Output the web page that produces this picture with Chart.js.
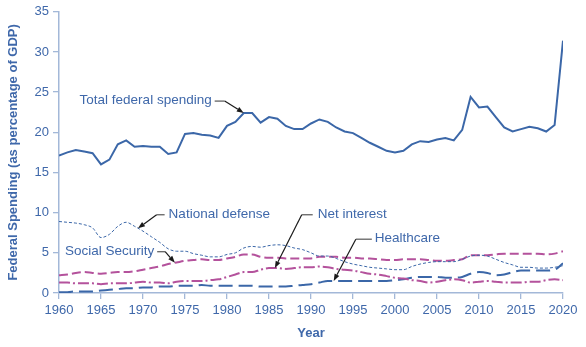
<!DOCTYPE html>
<html>
<head>
<meta charset="utf-8">
<script src="https://cdn.jsdelivr.net/npm/chart.js@4.4.1/dist/chart.umd.min.js"></script>
<style>
  html, body { margin: 0; padding: 0; background: #ffffff; }
  #wrap { width: 586px; height: 347px; }
</style>
</head>
<body>
<div id="wrap"><canvas id="chart" width="586" height="347"></canvas></div>
<script>
// Federal spending by category, percent of GDP, fiscal years 1960-2020
const years = [1960,1961,1962,1963,1964,1965,1966,1967,1968,1969,
               1970,1971,1972,1973,1974,1975,1976,1977,1978,1979,
               1980,1981,1982,1983,1984,1985,1986,1987,1988,1989,
               1990,1991,1992,1993,1994,1995,1996,1997,1998,1999,
               2000,2001,2002,2003,2004,2005,2006,2007,2008,2009,
               2010,2011,2012,2013,2014,2015,2016,2017,2018,2019,2020];

const totalSpending = [17.1,17.5,17.8,17.6,17.4,16.0,16.6,18.5,19.0,18.2,
                       18.3,18.2,18.2,17.3,17.5,19.8,19.9,19.7,19.6,19.3,
                       20.8,21.3,22.4,22.4,21.2,21.9,21.7,20.8,20.4,20.4,
                       21.1,21.6,21.3,20.6,20.1,19.9,19.3,18.7,18.2,17.7,
                       17.5,17.7,18.5,18.9,18.8,19.1,19.3,19.0,20.3,24.4,
                       23.1,23.2,21.9,20.6,20.1,20.4,20.7,20.5,20.1,20.9,31.4];

const nationalDefense = [8.9,8.8,8.7,8.5,8.1,6.9,7.3,8.3,8.8,8.3,
                         7.7,7.0,6.3,5.5,5.2,5.2,4.9,4.7,4.5,4.5,
                         4.8,5.0,5.6,5.8,5.7,5.9,6.0,5.9,5.6,5.4,
                         5.0,4.6,4.6,4.3,3.9,3.6,3.4,3.2,3.1,3.0,
                         2.9,2.9,3.3,3.6,3.8,3.9,3.9,3.9,4.2,4.6,
                         4.7,4.6,4.2,3.8,3.5,3.2,3.2,3.1,3.1,3.2,3.4];

const socialSecurity = [2.2,2.3,2.5,2.6,2.5,2.4,2.5,2.6,2.6,2.7,
                        2.9,3.1,3.3,3.6,3.8,4.0,4.1,4.2,4.1,4.1,
                        4.3,4.5,4.8,4.8,4.5,4.4,4.4,4.3,4.3,4.3,
                        4.3,4.5,4.5,4.5,4.4,4.4,4.3,4.3,4.2,4.1,
                        4.1,4.2,4.2,4.2,4.1,4.0,4.0,4.1,4.2,4.7,
                        4.7,4.7,4.8,4.9,4.9,4.9,4.9,4.9,4.8,4.9,5.2];

const netInterest = [1.3,1.3,1.2,1.2,1.2,1.1,1.2,1.2,1.2,1.3,
                     1.4,1.3,1.3,1.2,1.4,1.5,1.5,1.5,1.6,1.7,
                     2.0,2.3,2.6,2.6,2.9,3.1,3.1,3.0,3.1,3.2,
                     3.2,3.3,3.2,3.0,2.9,2.8,2.6,2.4,2.3,2.1,
                     1.9,1.8,1.6,1.5,1.3,1.4,1.6,1.7,1.6,1.3,
                     1.4,1.5,1.4,1.3,1.3,1.3,1.4,1.4,1.6,1.7,1.6];

const healthcare = [0.1,0.1,0.2,0.2,0.2,0.3,0.4,0.5,0.6,0.6,
                    0.7,0.7,0.8,0.8,0.9,0.9,0.9,1.0,0.9,0.9,
                    0.9,0.9,0.9,0.9,0.8,0.8,0.8,0.8,0.9,1.0,
                    1.1,1.3,1.5,1.5,1.5,1.5,1.5,1.5,1.5,1.5,
                    1.6,1.7,1.9,2.0,2.0,2.0,1.9,1.9,2.0,2.4,
                    2.6,2.5,2.2,2.3,2.6,2.8,2.8,2.8,2.8,2.9,3.7];

const yTicks = [0, 5, 10, 15, 20, 25, 30, 35];
const xTickStep = 5;

// Colours and styling
const BLUE = '#3b67a8';
const MAGENTA = '#b4529c';
const TEXT = '#3f68aa';
const AXIS = '#a3b8d8';
const FONT = '"Liberation Sans", Arial, sans-serif';

const points = (vals) => vals.map((v, i) => ({ x: years[i], y: v }));

// Callout labels: text anchored at (labelYear, labelValue), arrow pointing at a series
const callouts = [
  { text: 'Total federal spending', labelYear: 1962.45, labelValue: 23.95, series: totalSpending, tipYear: 1982,   side: 'right', gap: 3, stub: 10 },
  { text: 'National defense',       labelYear: 1973.05, labelValue: 9.8,   series: nationalDefense, tipYear: 1969.4, side: 'left', gap: 4, stub: 8 },
  { text: 'Social Security',        labelYear: 1960.7,  labelValue: 5.2,   series: socialSecurity, tipYear: 1973.8, side: 'right', gap: 3, stub: 8 },
  { text: 'Net interest',           labelYear: 1990.8,  labelValue: 9.8,   series: netInterest,    tipYear: 1985.7, side: 'left', gap: 5, stub: 11 },
  { text: 'Healthcare',             labelYear: 1997.6,  labelValue: 6.76,  series: healthcare,     tipYear: 1992.7, side: 'left', gap: 3, stub: 16 }
];

function seriesAt(series, year) {
  const i = Math.floor(year - years[0]);
  const f = year - years[0] - i;
  if (i >= series.length - 1) return series[series.length - 1];
  return series[i] + (series[i + 1] - series[i]) * f;
}

const calloutPlugin = {
  id: 'callouts',
  afterDatasetsDraw(chart) {
    const { ctx, scales: { x, y } } = chart;
    ctx.save();
    ctx.font = '13.5px ' + FONT;
    ctx.textBaseline = 'middle';
    ctx.textAlign = 'left';
    callouts.forEach(c => {
      const tx = x.getPixelForValue(c.labelYear);
      const ty = y.getPixelForValue(c.labelValue);
      ctx.fillStyle = TEXT;
      ctx.fillText(c.text, tx, ty);
      const w = ctx.measureText(c.text).width;
      let s0, s1;
      if (c.side === 'right') { s0 = tx + w + c.gap; s1 = s0 + c.stub; }
      else { s0 = tx - c.gap; s1 = s0 - c.stub; }
      const ly = ty + 0.5;
      // horizontal leader
      ctx.strokeStyle = '#555';
      ctx.lineWidth = 1.2;
      ctx.beginPath();
      ctx.moveTo(s0, ly);
      ctx.lineTo(s1, ly);
      ctx.stroke();
      // diagonal to the series
      const px = x.getPixelForValue(c.tipYear);
      const py = y.getPixelForValue(seriesAt(c.series, c.tipYear));
      const ang = Math.atan2(py - ly, px - s1);
      const hl = 7, hw = 2.6;
      const bx = px - hl * Math.cos(ang), by = py - hl * Math.sin(ang);
      ctx.strokeStyle = '#1a1a1a';
      ctx.beginPath();
      ctx.moveTo(s1, ly);
      ctx.lineTo(bx, by);
      ctx.stroke();
      ctx.fillStyle = '#1a1a1a';
      ctx.beginPath();
      ctx.moveTo(px, py);
      ctx.lineTo(bx + hw * Math.sin(ang), by - hw * Math.cos(ang));
      ctx.lineTo(bx - hw * Math.sin(ang), by + hw * Math.cos(ang));
      ctx.closePath();
      ctx.fill();
    });
    ctx.restore();
  }
};

new Chart(document.getElementById('chart'), {
  type: 'line',
  data: {
    datasets: [
      { label: 'Total federal spending', data: points(totalSpending), borderColor: BLUE, borderWidth: 2, tension: 0 },
      { label: 'National defense', data: points(nationalDefense), borderColor: BLUE, borderWidth: 1, borderDash: [3, 2], cubicInterpolationMode: 'monotone' },
      { label: 'Social Security', data: points(socialSecurity), borderColor: MAGENTA, borderWidth: 2, borderDash: [9, 4], cubicInterpolationMode: 'monotone' },
      { label: 'Net interest', data: points(netInterest), borderColor: MAGENTA, borderWidth: 2, borderDash: [11, 3, 2, 3], cubicInterpolationMode: 'monotone' },
      { label: 'Healthcare', data: points(healthcare), borderColor: BLUE, borderWidth: 2, borderDash: [14, 6], cubicInterpolationMode: 'monotone' }
    ]
  },
  options: {
    responsive: false,
    animation: false,
    events: [],
    elements: { point: { radius: 0 } },
    layout: { padding: { left: 0, right: 23, top: 11, bottom: 0 } },
    plugins: { legend: { display: false }, tooltip: { enabled: false } },
    scales: {
      x: {
        type: 'linear',
        min: years[0],
        max: years[years.length - 1],
        afterFit(scale) { scale.height = 54; },
        afterBuildTicks(scale) {
          const t = [];
          for (let v = years[0]; v <= years[years.length - 1]; v += xTickStep) t.push({ value: v });
          scale.ticks = t;
        },
        ticks: { color: TEXT, font: { family: FONT, size: 13 }, padding: 4, maxRotation: 0, callback: v => String(v) },
        grid: { drawOnChartArea: false, drawTicks: true, tickLength: 6, color: AXIS, lineWidth: 1.3 },
        border: { color: AXIS, width: 1.5 },
        title: { display: true, text: 'Year', color: TEXT, font: { family: FONT, size: 13, weight: 'bold' }, padding: { top: 0, bottom: 6 } }
      },
      y: {
        min: yTicks[0],
        max: yTicks[yTicks.length - 1],
        afterFit(scale) { scale.width = 59; },
        afterBuildTicks(scale) { scale.ticks = yTicks.map(v => ({ value: v })); },
        ticks: { color: TEXT, font: { family: FONT, size: 13 }, padding: 4 },
        grid: { drawOnChartArea: false, drawTicks: true, tickLength: 6, color: AXIS, lineWidth: 1.3 },
        border: { color: AXIS, width: 1.5 },
        title: { display: true, text: 'Federal Spending (as percentage of GDP)', color: TEXT, font: { family: FONT, size: 13, weight: 'bold' }, padding: { top: 6, bottom: 0 } }
      }
    }
  },
  plugins: [calloutPlugin]
});
</script>
</body>
</html>
